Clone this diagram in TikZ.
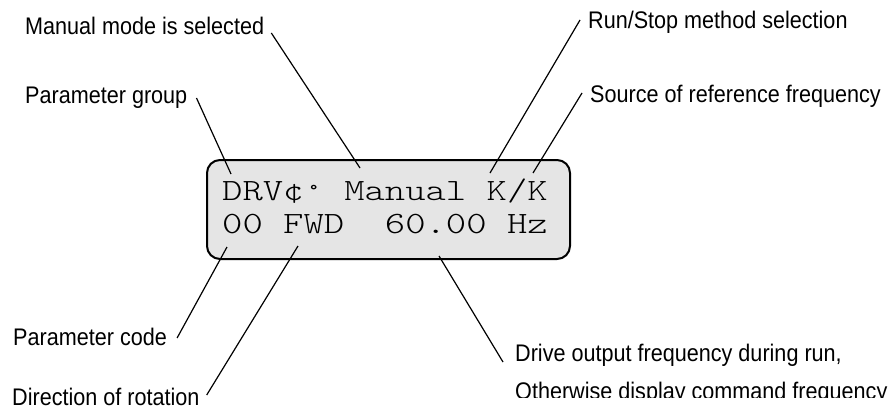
\documentclass[tikz,border=0pt]{standalone}
\usepackage{fontspec}
\setmainfont[FakeStretch=0.9]{Liberation Sans}
\newfontfamily\lcdfont[FakeStretch=1.25]{Latin Modern Mono Light}
\begin{document}
\begin{tikzpicture}[x=1pt,y=-1pt,
        tag/.style={anchor=base west,inner sep=0pt,font=\fontsize{24}{24}\selectfont},
        lcdtext/.style={anchor=base west,inner sep=0pt,font=\lcdfont\fontsize{31}{31}\selectfont},
        lcdbox/.style={draw,line width=2pt,fill=black!10,rounded corners=13pt,
            minimum width=363pt,minimum height=99pt,inner sep=0pt},
        leader/.style={line width=1.2pt}]
        \useasboundingbox (0,0) rectangle (896,410);
        % Display window
        \node[lcdbox] (lcd) at (388.5,209.5) {};
        \node[lcdtext] (row1) at (222,200) {DRV¢\raisebox{-4pt}{°} Manual K/K};
        \node[lcdtext] (row2) at (222,233) {00 FWD\ \ 60.00 Hz};
        % Labels
        \node[tag] (mode) at (25,34) {Manual mode is selected};
        \node[tag] (group) at (25,103) {Parameter group};
        \node[tag] (runstop) at (588,28) {Run/Stop method selection};
        \node[tag] (source) at (590,102) {Source of reference frequency};
        \node[tag] (code) at (13,345) {Parameter code};
        \node[tag] (dir) at (12,405) {Direction of rotation};
        \node[tag] (drive) at (515,361) {Drive output frequency during run,};
        \begin{scope}
            \clip (0,0) rectangle (896,397);
            \node[tag] (other) at (515,399) {Otherwise display command frequency};
        \end{scope}
        % Points on the display
        \coordinate (p-group) at (231,174);
        \coordinate (p-mode) at (360,168);
        \coordinate (p-runstop) at (490,173);
        \coordinate (p-source) at (533,173);
        \coordinate (p-code) at (227,247);
        \coordinate (p-dir) at (298,246);
        \coordinate (p-freq) at (439,256);
        % Leaders
        \draw[leader] ([shift={(7,-1)}]mode.base east) -- (p-mode);
        \draw[leader] ([shift={(9,-5)}]group.base east) -- (p-group);
        \draw[leader] ([shift={(-8,-8)}]runstop.base west) -- (p-runstop);
        \draw[leader] ([shift={(-8,-9)}]source.base west) -- (p-source);
        \draw[leader] ([shift={(10,-7)}]code.base east) -- (p-code);
        \draw[leader] ([shift={(7,-10)}]dir.base east) -- (p-dir);
        \draw[leader] ([shift={(-12,1)}]drive.base west) -- (p-freq);
    \end{tikzpicture}
\end{document}
